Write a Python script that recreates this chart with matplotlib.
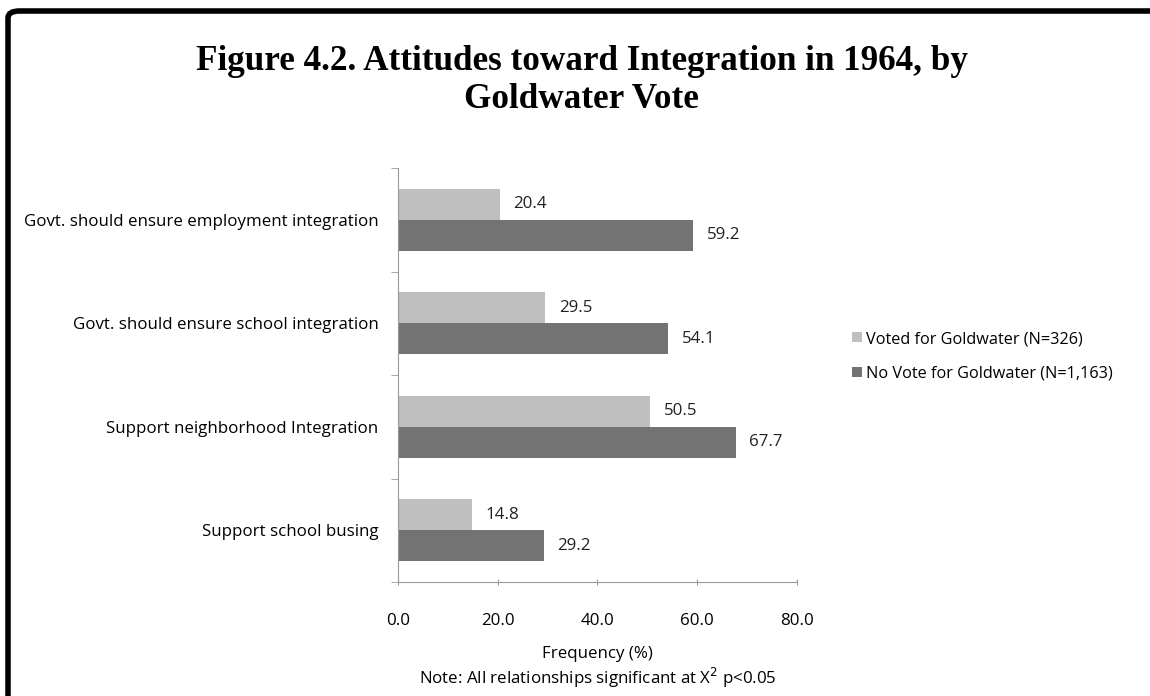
import matplotlib.pyplot as plt
import matplotlib.patches as mpatches
import numpy as np

categories = ['Govt. should ensure employment integration',
              'Govt. should ensure school integration',
              'Support neighborhood Integration',
              'Support school busing']
voted = [20.4, 29.5, 50.5, 14.8]
no_vote = [59.2, 54.1, 67.7, 29.2]
series_labels = ['Voted for Goldwater (N=326)', 'No Vote for Goldwater (N=1,163)']
light = '#BFBFBF'
dark = '#737373'

plt.rcParams['font.family'] = ['Open Sans', 'DejaVu Sans']
fs = 12.2

fig = plt.figure(figsize=(11.5, 6.96), dpi=100)
ax = fig.add_axes([0.346, 0.1638, 0.347, 0.5948])

y = np.arange(len(categories))[::-1].astype(float)
h = 0.3
b1 = ax.barh(y + h / 2, voted, height=h, color=light, label=series_labels[0])
b2 = ax.barh(y - h / 2, no_vote, height=h, color=dark, label=series_labels[1])

for bars, vals in [(b1, voted), (b2, no_vote)]:
    for rect, v in zip(bars, vals):
        ax.annotate(f'{v:.1f}', (rect.get_width(), rect.get_y() + rect.get_height() / 2),
                    xytext=(10, 0), textcoords='offset points', va='center', ha='left',
                    fontsize=fs, color='#222222')

ax.set_xlim(0, 80)
ax.set_ylim(-0.5, len(categories) - 0.5)
ax.set_xticks([0, 20, 40, 60, 80])
ax.set_xticklabels([f'{t:.1f}' for t in [0, 20, 40, 60, 80]], fontsize=fs)
ax.set_yticks(y)
ax.set_yticklabels(categories, fontsize=fs)
ax.set_yticks(np.arange(-0.5, len(categories), 1.0), minor=True)
ax.tick_params(axis='y', which='major', length=0, pad=14)
ax.tick_params(axis='y', which='minor', length=5, color='#999999', direction='out')
ax.tick_params(axis='x', length=5, color='#999999', direction='inout', pad=20)
for s in ['top', 'right']:
    ax.spines[s].set_visible(False)
for s in ['left', 'bottom']:
    ax.spines[s].set_color('#999999')
ax.set_xlabel('Frequency (%)\nNote: All relationships significant at X$^2$ p<0.05',
              fontsize=fs, labelpad=12, linespacing=1.2)

fig.legend(handles=[b1, b2], loc='center left', bbox_to_anchor=(0.728, 0.488),
           frameon=False, fontsize=11.7, handlelength=0.6, handleheight=0.6,
           handletextpad=0.25, labelspacing=1.15)

fig.text(0.506, 0.884, 'Figure 4.2. Attitudes toward Integration in 1964, by\nGoldwater Vote',
         ha='center', va='center', fontsize=25.3, fontweight='bold',
         family='Liberation Serif', linespacing=1.22)

border = mpatches.FancyBboxPatch((8 / 1150, -0.1), 1.2, 1.1 - 11 / 696,
                                 boxstyle='round,pad=0,rounding_size=0.01',
                                 transform=fig.transFigure, fill=False,
                                 edgecolor='black', linewidth=4)
fig.patches.append(border)

fig.savefig('out.png', dpi=100)
